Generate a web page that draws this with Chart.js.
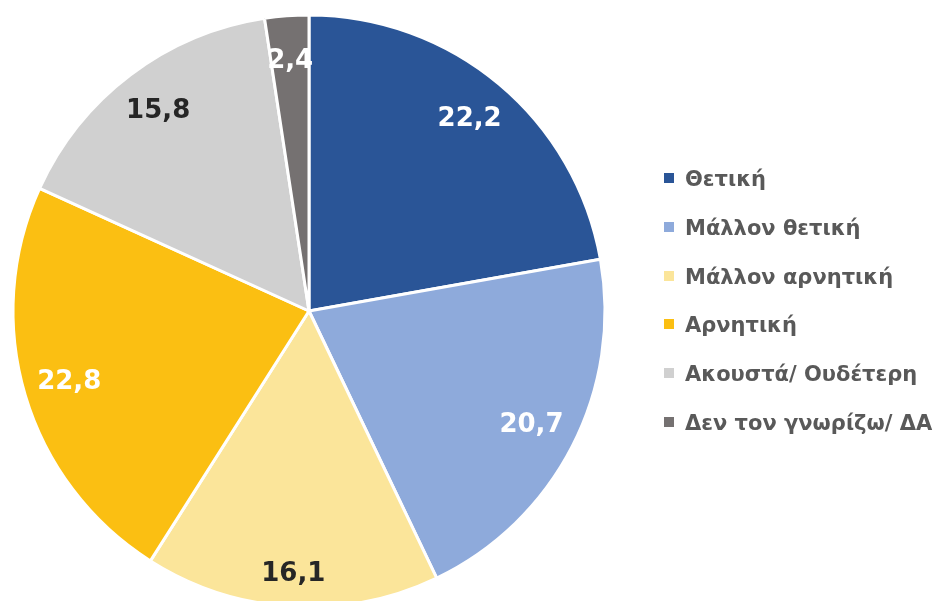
<!DOCTYPE html>
<html>
<head>
<meta charset="utf-8">
<script src="https://cdn.jsdelivr.net/npm/chart.js@4.4.0/dist/chart.umd.min.js"></script>
<style>
    html, body { margin: 0; padding: 0; background: #fff; overflow: hidden; }
    #wrap { position: relative; width: 948px; height: 601px; overflow: hidden; }
    #chart { position: absolute; left: 0; top: 0; }
    #legend { position: absolute; left: 664px; top: 155px; margin: 0; padding: 0; list-style: none;
        font-family: "DejaVu Sans", sans-serif; font-weight: bold; font-size: 21px; color: #595959; white-space: nowrap; }
    #legend li { height: 48.8px; line-height: 48px; }
    #legend span.box { display: inline-block; width: 10px; height: 10px; margin-right: 11px; vertical-align: 3px; }
</style>
</head>
<body>
<div id="wrap">
    <canvas id="chart" width="948" height="601"></canvas>
    <ul id="legend"></ul>
</div>
<script>
const categories = ['Θετική', 'Μάλλον θετική', 'Μάλλον αρνητική', 'Αρνητική', 'Ακουστά/ Ουδέτερη', 'Δεν τον γνωρίζω/ ΔΑ'];
const values = [22.2, 20.7, 16.1, 22.8, 15.8, 2.4];
const colors = ['#2a5597', '#8eaadb', '#fbe59a', '#fbbf12', '#d0d0d0', '#757171'];
const labelColors = ['#ffffff', '#ffffff', '#262626', '#ffffff', '#262626', '#ffffff'];

// Value labels inside the slices
const sliceLabels = {
    id: 'sliceLabels',
    afterDatasetsDraw(chart) {
        const ctx = chart.ctx;
        const meta = chart.getDatasetMeta(0);
        ctx.save();
        ctx.font = 'bold 26px "DejaVu Sans", sans-serif';
        ctx.textAlign = 'center';
        ctx.textBaseline = 'middle';
        meta.data.forEach((arc, i) => {
            const mid = (arc.startAngle + arc.endAngle) / 2;
            const r = arc.outerRadius * (i === 2 ? 0.89 : 0.845);
            const x = arc.x + Math.cos(mid) * r;
            const y = arc.y + Math.sin(mid) * r;
            ctx.fillStyle = labelColors[i];
            ctx.fillText(values[i].toFixed(1).replace('.', ','), x, y);
        });
        ctx.restore();
    }
};

const chart = new Chart(document.getElementById('chart'), {
    type: 'pie',
    data: {
        labels: categories,
        datasets: [{
            data: values,
            backgroundColor: colors,
            borderColor: '#ffffff',
            borderWidth: 3,
            radius: 296,
            clip: false
        }]
    },
    options: {
        responsive: false,
        animation: false,
        layout: { padding: { left: 0, right: 330, top: 21, bottom: 0 } },
        plugins: {
            legend: { display: false },
            tooltip: { enabled: false }
        }
    },
    plugins: [sliceLabels]
});

// Legend
const legend = document.getElementById('legend');
categories.forEach((name, i) => {
    const li = document.createElement('li');
    const box = document.createElement('span');
    box.className = 'box';
    box.style.background = colors[i];
    li.appendChild(box);
    li.appendChild(document.createTextNode(name));
    legend.appendChild(li);
});
</script>
</body>
</html>
